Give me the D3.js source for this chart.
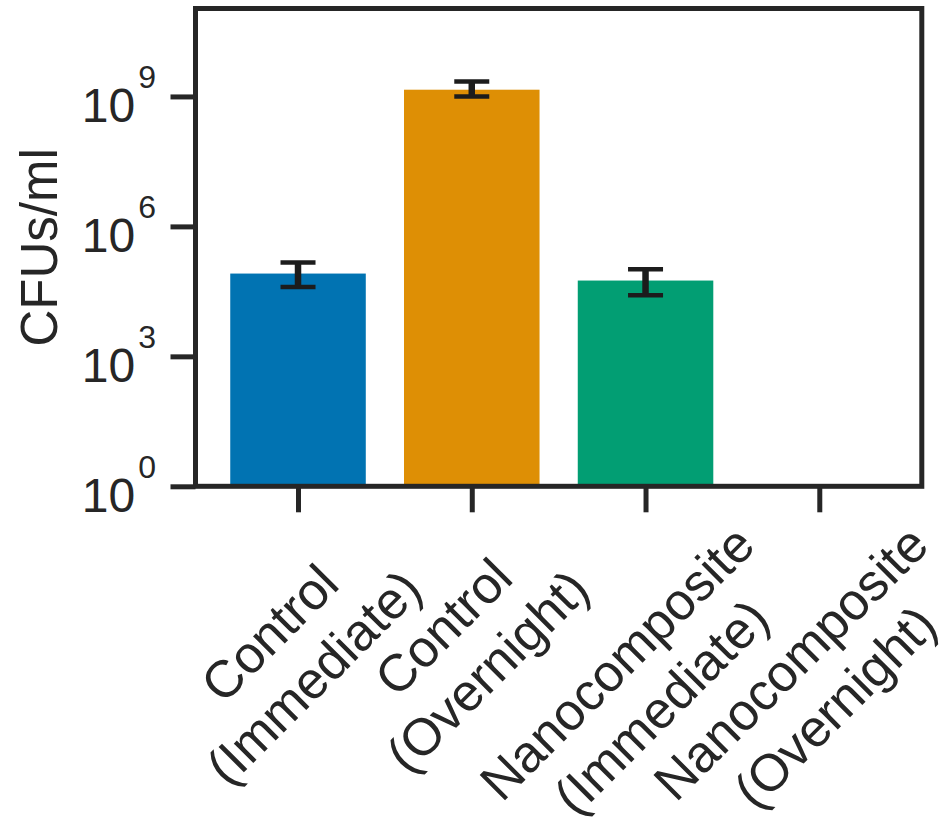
<!DOCTYPE html>
<html>
<head>
<meta charset="utf-8">
<script src="https://cdn.jsdelivr.net/npm/d3@7"></script>
<style>
  html, body { margin: 0; padding: 0; background: #ffffff; }
  svg { display: block; }
  text { font-family: "Liberation Sans", Arial, Helvetica, sans-serif; fill: #262626; }
</style>
</head>
<body>
<svg id="chart" width="946" height="825"></svg>
<script>
// Bacterial counts (CFUs/ml) per condition, with error-bar bounds
const categories = [
  "Control\n(Immediate)",
  "Control\n(Overnight)",
  "Nanocomposite\n(Immediate)",
  "Nanocomposite\n(Overnight)"
];
const cfuMean = [81500, 1.43e9, 56200, 0];
const cfuLow  = [40000, 1.0e9, 25800, null];
const cfuHigh = [146000, 2.21e9, 102000, null];
const barColors = ["#0173b2", "#de8f05", "#029e73", "#d55e00"];
const yTickValues = [1, 1e3, 1e6, 1e9];
const yLabel = "CFUs/ml";

const svg = d3.select("#chart");
const ink = "#262626";

// Plot frame
const plotLeft = 195.5, plotRight = 921.8, plotTop = 8.5, plotBottom = 486.3;

const x = d3.scalePoint()
  .domain(categories)
  .range([plotLeft, plotRight])
  .padding(0.59);
const barW = x.step() * 0.78;

const y = d3.scaleLog()
  .domain([1, Math.pow(10, 11.03)])
  .range([plotBottom, plotTop]);

const data = categories.map((c, i) => ({
  cat: c, value: cfuMean[i], low: cfuLow[i], high: cfuHigh[i], color: barColors[i]
}));

// Bars (zero counts have no bar on a log axis)
svg.append("g").selectAll("rect")
  .data(data.filter(d => d.value > 0))
  .join("rect")
  .attr("x", d => x(d.cat) - barW / 2)
  .attr("width", barW)
  .attr("y", d => y(d.value))
  .attr("height", d => y(1) - y(d.value))
  .attr("fill", d => d.color);

// Error bars
const errG = svg.append("g")
  .selectAll("g")
  .data(data.filter(d => d.low != null && d.high != null))
  .join("g");
const capHalf = 17.5;
errG.append("line")
  .attr("x1", d => x(d.cat)).attr("x2", d => x(d.cat))
  .attr("y1", d => y(d.low)).attr("y2", d => y(d.high))
  .attr("stroke", "#1c1c1c").attr("stroke-width", 6.5);
errG.append("line")
  .attr("x1", d => x(d.cat) - capHalf).attr("x2", d => x(d.cat) + capHalf)
  .attr("y1", d => y(d.high)).attr("y2", d => y(d.high))
  .attr("stroke", "#1c1c1c").attr("stroke-width", 4.5);
errG.append("line")
  .attr("x1", d => x(d.cat) - capHalf).attr("x2", d => x(d.cat) + capHalf)
  .attr("y1", d => y(d.low)).attr("y2", d => y(d.low))
  .attr("stroke", "#1c1c1c").attr("stroke-width", 4.5);

// Axes ticks (labels drawn separately)
const yAxis = svg.append("g")
  .attr("transform", `translate(${plotLeft},0)`)
  .call(d3.axisLeft(y).tickValues(yTickValues).tickSize(25).tickFormat(""));
const xAxis = svg.append("g")
  .attr("transform", `translate(0,${plotBottom})`)
  .call(d3.axisBottom(x).tickSize(26).tickFormat(""));
[yAxis, xAxis].forEach(a => {
  a.select(".domain").remove();
  a.selectAll(".tick line").attr("stroke", ink).attr("stroke-width", 5);
});

// Frame around the plot
svg.append("rect")
  .attr("x", plotLeft).attr("y", plotTop)
  .attr("width", plotRight - plotLeft).attr("height", plotBottom - plotTop)
  .attr("fill", "none").attr("stroke", ink).attr("stroke-width", 5)
  .attr("stroke-linejoin", "miter");

// Y tick labels as powers of ten
const tickFs = 48, supFs = 32;
yTickValues.forEach(v => {
  const t = svg.append("text")
    .attr("x", 156)
    .attr("y", y(v) + 26)
    .attr("text-anchor", "end")
    .style("font-size", tickFs + "px");
  t.append("tspan").text("10");
  t.append("tspan")
    .attr("dx", 3)
    .attr("dy", -34)
    .style("font-size", supFs + "px")
    .text(String(Math.round(Math.log10(v))));
});

// Y axis title
svg.append("text")
  .attr("transform", `translate(57,${(plotTop + plotBottom) / 2}) rotate(-90)`)
  .attr("text-anchor", "middle")
  .style("font-size", "51px")
  .text(yLabel);

// X tick labels: two centred lines, rotated 45°, box hung below each tick
const xFs = 52, lh = xFs * 1.2, labelTop = 521;
const boxH = lh + xFs * 1.117;
categories.forEach(c => {
  const lines = c.split("\n");
  const g = svg.append("g");
  const n = lines.length;
  const texts = lines.map((ln, i) => g.append("text")
    .attr("x", 0)
    .attr("y", (i - (n - 1) / 2) * lh + xFs * 0.17)
    .attr("text-anchor", "middle")
    .style("font-size", xFs + "px")
    .text(ln));
  const W = d3.max(texts, t => t.node().getComputedTextLength());
  const half = (W + boxH) / (2 * Math.SQRT2);
  g.attr("transform", `translate(${x(c)},${labelTop + half}) rotate(-45)`);
});
</script>
</body>
</html>
